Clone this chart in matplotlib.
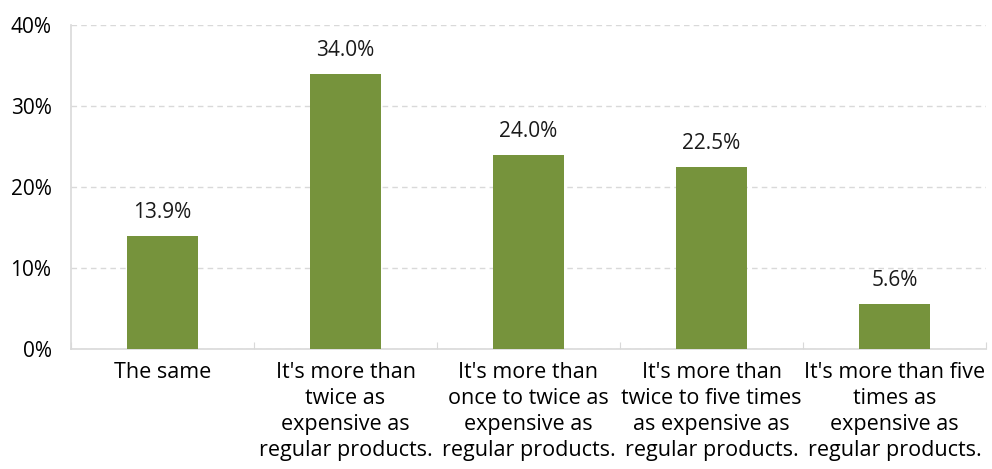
import matplotlib.pyplot as plt
import numpy as np

plt.rcParams['font.family'] = ['Open Sans', 'DejaVu Sans']

categories = [
    "The same",
    "It's more than\ntwice as\nexpensive as\nregular products.",
    "It's more than\nonce to twice as\nexpensive as\nregular products.",
    "It's more than\ntwice to five times\nas expensive as\nregular products.",
    "It's more than five\ntimes as\nexpensive as\nregular products.",
]
shares = [13.9, 34.0, 24.0, 22.5, 5.6]
yticks = [0, 10, 20, 30, 40]

fig = plt.figure(figsize=(9.92, 4.69), dpi=100)
ax = fig.add_axes([71 / 992, 1 - 349 / 469, (986 - 71) / 992, (349 - 25) / 469])

x = np.arange(len(categories))
bars = ax.bar(x, shares, width=0.39, color='#76933c', zorder=3)
for xi, v in zip(x, shares):
    ax.text(xi, v + 1.6, f'{v:.1f}%', ha='center', va='bottom', fontsize=15, color='#1a1a1a')

ax.set_xlim(-0.5, len(categories) - 0.5)
ax.set_ylim(0, 40)
ax.set_yticks(yticks)
ax.set_yticklabels([f'{t}%' for t in yticks], fontsize=15)
ax.yaxis.grid(True, linestyle=(0, (4, 3)), color='#d9d9d9', linewidth=1, zorder=0)
ax.tick_params(axis='y', length=0, pad=14)

# category boundary ticks on the x axis
ax.set_xticks(np.arange(-0.5, len(categories) + 0.5, 1.0))
ax.set_xticklabels([])
ax.set_xticks(x, minor=True)
ax.set_xticklabels(categories, minor=True, fontsize=15.5, linespacing=1.32)
ax.tick_params(axis='x', which='major', direction='in', length=5, color='#d9d9d9')
ax.tick_params(axis='x', which='minor', length=0, pad=9)

for side in ['top', 'right']:
    ax.spines[side].set_visible(False)
for side in ['left', 'bottom']:
    ax.spines[side].set_color('#d9d9d9')
    ax.spines[side].set_linewidth(1.2)

fig.savefig('out.png', dpi=100)
